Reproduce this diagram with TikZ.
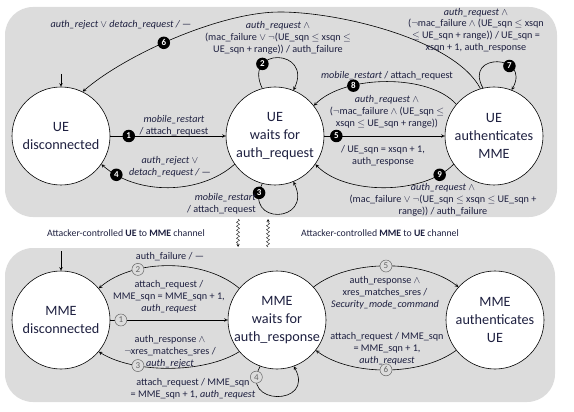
\documentclass[tikz,border=0pt]{standalone}
\usepackage{fontspec}
\setmainfont{Carlito}
\usetikzlibrary{arrows,decorations.pathmorphing}
\definecolor{bandgray}{RGB}{220,220,220}
\definecolor{ink}{RGB}{30,32,64}
\begin{document}
\begin{tikzpicture}[x=1pt,y=-1pt,>=stealth,line width=0.6pt]
\tikzstyle{state} = [circle,draw,fill=white,minimum size=98pt,inner sep=0pt,align=center,text=ink,font=\fontsize{14.2}{18}\selectfont]
\tikzstyle{tag} = [circle,fill=black,text=white,font=\fontsize{9}{9}\selectfont\bfseries,inner sep=0pt,minimum size=12.5pt]
\tikzstyle{mtag} = [circle,draw=black!60,fill=bandgray,text=black!60,font=\fontsize{9}{9}\selectfont,inner sep=0pt,minimum size=12pt,line width=0.5pt]
\tikzstyle{lbl} = [align=center,text=ink,font=\fontsize{10.2}{11.8}\selectfont,inner sep=0pt]
\tikzstyle{chan} = [text=ink,font=\fontsize{9.8}{11}\selectfont,inner sep=0pt]
\tikzstyle{band} = [fill=bandgray,rounded corners=28pt]
\tikzstyle{squig} = [->,line width=0.4pt,decorate,decoration={snake,amplitude=1.5pt,segment length=4pt,post length=3pt}]
\useasboundingbox (0,0) rectangle (574,412);
\fill[band] (5,7) rectangle (557,217);
\fill[band] (5,248) rectangle (555,402);

\node[state] (ud) at (61,136) {UE\\disconnected};
\node[state] (uw) at (275,136) {UE\\waits for\\auth\_request};
\node[state] (ua) at (494,136) {UE\\authenticates\\MME};
\node[state] (md) at (61,320) {MME\\disconnected};
\node[state] (mw) at (277,320) {MME\\waits for\\auth\_response};
\node[state] (ma) at (495,320) {MME\\authenticates\\UE};

\coordinate (ustart) at (61,74);
\coordinate (mstart) at (61,251);
\coordinate (arc6) at (280,12);
\draw[->] (ustart) -- (ud);
\draw[->] (mstart) -- (md);

\draw[->] (ud) -- node[tag,pos=0.16] {1} (uw);
\draw[->] (uw.105) .. controls +(-20,-42) and +(20,-42) .. node[tag,pos=0.27] {2} (uw.68);
\draw[->] (uw.255) .. controls +(-20,42) and +(20,42) .. node[tag,pos=0.08] {3} (uw.292);
\draw[->] (uw.215) .. controls +(-35,31) and +(35,31) .. node[tag,pos=0.87] {4} (ud.325);
\draw[->] (uw) -- node[tag,pos=0.1] {5} (ua);
\draw[->] (ua.106) .. controls (455,40) and (340,12) .. (arc6)
    .. controls (220,12) and (125,55) .. node[tag,pos=0.55] {6} (ud.64);
\draw[->] (ua.103) .. controls +(-20,-36) and +(20,-36) .. node[tag,pos=0.68] {7} (ua.69);
\draw[->] (ua.140) .. controls (430,74) and (345,74) .. node[tag,pos=0.7] {8} (uw.38);
\draw[->] (ua.215) .. controls +(-30,31) and +(30,31) .. node[tag,pos=0.13] {9} (uw.325);

\node[lbl] (l1) at (174,126) {\textit{mobile\_restart}\\/ attach\_request};
\node[lbl] (l2) at (278,38) {\textit{auth\_request} $\wedge$\\(mac\_failure $\vee$ $\neg$(UE\_sqn $\leq$ xsqn $\leq$\\UE\_sqn + range)) / auth\_failure};
\node[lbl,anchor=east,align=right] (l3) at (256,204) {\textit{mobile\_restart}\\/ attach\_request};
\node[lbl] (l4) at (170,167) {\textit{auth\_reject} $\vee$\\\textit{detach\_request / ---}};
\node[lbl] (l5a) at (387,112) {\textit{auth\_request} $\wedge$\\($\neg$mac\_failure $\wedge$ (UE\_sqn $\leq$\\xsqn $\leq$ UE\_sqn + range))};
\node[lbl] (l5b) at (383,156) {/ UE\_sqn = xsqn + 1,\\auth\_response};
\node[lbl] (l6) at (121,25) {\textit{auth\_reject} $\vee$ \textit{detach\_request / ---}};
\node[lbl] (l7) at (476,30) {\textit{auth\_request} $\wedge$\\($\neg$mac\_failure $\wedge$ (UE\_sqn $\leq$ xsqn\\$\leq$ UE\_sqn + range)) / UE\_sqn =\\xsqn + 1, auth\_response};
\node[lbl] (l8) at (387,76) {\textit{mobile\_restart} / attach\_request};
\node[lbl] (l9) at (443,200) {\textit{auth\_request} $\wedge$\\(mac\_failure $\vee$ $\neg$(UE\_sqn $\leq$ xsqn $\leq$ UE\_sqn +\\range)) / auth\_failure};

\node[chan] (lch) at (126,233) {Attacker-controlled \textbf{UE} to \textbf{MME} channel};
\node[chan] (rch) at (380,233) {Attacker-controlled \textbf{MME} to \textbf{UE} channel};
\coordinate (dtop) at (238,219);
\coordinate (dbot) at (238,247);
\coordinate (utop) at (268,219);
\coordinate (ubot) at (268,247);
\draw[squig] (dtop) -- (dbot);
\draw[squig] (ubot) -- (utop);

\draw[->] (md) -- node[mtag,pos=0.09] {1} (mw);
\draw[->] (mw.140) .. controls +(-35,-30) and +(35,-30) .. node[mtag,pos=0.7] {2} (md.40);
\draw[->] (mw.220) .. controls +(-35,22) and +(35,22) .. node[mtag,pos=0.7] {3} (md.320);
\draw[->] (mw.250) .. controls +(-22,40) and +(22,40) .. node[mtag,pos=0.1] {4} (mw.290);
\draw[->] (mw.42) .. controls +(35,-28) and +(-35,-28) .. node[mtag,pos=0.5] {5} (ma.138);
\draw[->] (ma.218) .. controls +(-35,26) and +(35,26) .. node[mtag,pos=0.5] {6} (mw.322);

\node[lbl] (m1) at (169,297) {attach\_request /\\MME\_sqn = MME\_sqn + 1,\\\textit{auth\_request}};
\node[lbl] (m2) at (170,257) {auth\_failure / ---};
\node[lbl] (m3) at (170,352) {auth\_response $\wedge$\\$\neg$xres\_matches\_sres /\\\textit{auth\_reject}};
\node[lbl] (m4) at (193,389) {attach\_request / MME\_sqn\\= MME\_sqn + 1, \textit{auth\_request}};
\node[lbl] (m5) at (385,293) {auth\_response $\wedge$\\xres\_matches\_sres /\\\textit{Security\_mode\_command}};
\node[lbl] (m6) at (387,349) {attach\_request / MME\_sqn\\= MME\_sqn + 1,\\\textit{auth\_request}};
\end{tikzpicture}
\end{document}
